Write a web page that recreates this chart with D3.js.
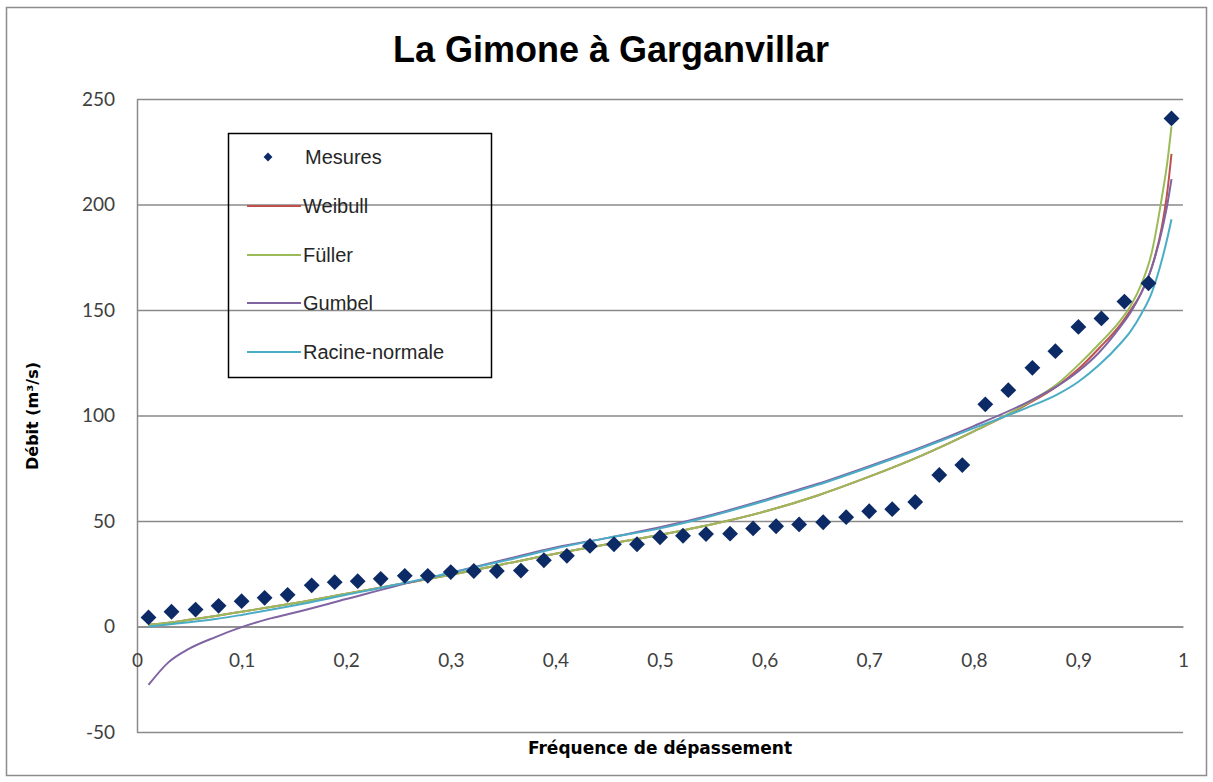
<html>
<head>
<meta http-equiv="Content-Type" content="text/html; charset=utf-8">
<title>La Gimone à Garganvillar</title>
<style>
body{ margin:0; background:#fff; }
.grid line{ stroke:#8a8a8a; stroke-width:1.5px; }
.grid path{ stroke:#8a8a8a; stroke-width:1.5px; }
.tick text{ font-family:Lato, "Liberation Sans", sans-serif; font-size:19px; fill:#404040; }
.curve{ fill:none; stroke-width:2px; }
.legend text{ font-family:"Liberation Sans", Arial, sans-serif; font-size:20px; fill:#262626; }
</style>
<script src="https://cdn.jsdelivr.net/npm/d3@7"></script>
</head>
<body>
<div id="chart"></div>
<script>
// mesures (fréquence de Hazen, 45 valeurs)
var freqMesures = [0.011,0.033,0.056,0.078,0.1,0.122,0.144,0.167,0.189,0.211,0.233,0.256,0.278,0.3,0.322,0.344,0.367,0.389,0.411,0.433,0.456,0.478,0.5,0.522,0.544,0.567,0.589,0.611,0.633,0.656,0.678,0.7,0.722,0.744,0.767,0.789,0.811,0.833,0.856,0.878,0.9,0.922,0.944,0.967,0.989];
var debitMesures = [4.3,7,8,9.8,12,13.6,15,19.5,21,21.5,22.6,24,24,25.8,26.3,26.3,26.5,31.4,33.5,38.2,39,39,42.3,43,43.8,44,46.5,47.5,48.4,49.4,51.8,54.6,55.6,59,71.8,76.5,105.3,112,122.6,130.5,142,146,154,162.7,240.8];

// lois ajustées
var freqLois = [0.011,0.03,0.05,0.075,0.1,0.125,0.15,0.2,0.25,0.3,0.35,0.4,0.45,0.5,0.55,0.6,0.65,0.7,0.75,0.8,0.85,0.88,0.9,0.92,0.94,0.95,0.96,0.97,0.98,0.985,0.989];
var weibull = [0.8,1.8,3.2,5,7,9,11,15.5,20,24.5,29.5,34.5,39,43.5,48.5,54.5,62,71,81,92.5,105,114,122,132,143,150,158,170,190,206,224];
var fuller  = [0.8,1.8,3.2,5,7,9,11,15.5,20,24.5,29.5,34.5,39,43.5,48.5,54.5,62,71,81,92.5,105.5,115,124,134,145,152,162,177,204,220,237];
var gumbel  = [-27.7,-17,-10.5,-5,-0.3,3.5,6.5,13,19.5,25.5,31.5,37.5,42,47,53,60,67.5,76,85,95,106,114,121,130,142,149,158,170,188,200,212];
var racine  = [0,1,2,3.5,5.5,7.7,10,15,20,25.5,31,37,42,46.5,52.5,59.5,67,75.5,84.5,94,103.5,110,116,124,134,140,148,158,174,184,193];

var nomsLois = ["Weibull","Füller","Gumbel","Racine-normale"];
var couleurs = ["#c0504d","#9bbb59","#8064a2","#4bacc6"];
var yTicks = [-50,0,50,100,150,200,250];
var xTicks = [0,0.1,0.2,0.3,0.4,0.5,0.6,0.7,0.8,0.9,1];

var W = 1213, H = 782;
var x = d3.scaleLinear().domain([0,1]).range([137,1183]);
var y = d3.scaleLinear().domain([-50,250]).range([732,99]);

var svg = d3.select('#chart').append('svg')
	.attr('width', W)
	.attr('height', H);

svg.append('rect')
	.attr('x', 6.5).attr('y', 7.5)
	.attr('width', 1200).attr('height', 768)
	.attr('fill', '#fff')
	.attr('stroke', '#8c8c8c')
	.attr('stroke-width', 1.5);

svg.append('text')
	.attr('x', 611).attr('y', 62)
	.attr('text-anchor', 'middle')
	.style('font-family', '"Liberation Sans", Arial, sans-serif')
	.style('font-weight', 'bold')
	.style('font-size', '36px')
	.style('fill', '#000')
	.text('La Gimone à Garganvillar');

// axe y + grille
svg.append('g')
	.attr('class', 'grid')
	.attr('transform', 'translate(137,0)')
	.call(d3.axisLeft(y).tickValues(yTicks).tickSizeInner(-(1183-137)).tickSizeOuter(0).tickPadding(22)
		.tickFormat(function(d){ return String(d); }));

// axe x à zéro
svg.append('g')
	.attr('class', 'grid')
	.attr('transform', 'translate(0,' + y(0) + ')')
	.call(d3.axisBottom(x).tickValues(xTicks).tickSize(0).tickPadding(27)
		.tickFormat(function(d){ return String(d).replace('.', ','); }));

// légende (sans fond, la grille passe dessous)
var leg = svg.append('g').attr('class', 'legend');
leg.append('rect')
	.attr('x', 228.5).attr('y', 133.5)
	.attr('width', 263).attr('height', 244)
	.attr('fill', 'none')
	.attr('stroke', '#000')
	.attr('stroke-width', 1.5);

// courbes
var line = d3.line()
	.curve(d3.curveMonotoneX)
	.x(function(d){ return x(d[0]); })
	.y(function(d){ return y(d[1]); });

[weibull, fuller, gumbel, racine].forEach(function(serie, i){
	svg.append('path')
		.datum(freqLois.map(function(f, j){ return [f, serie[j]]; }))
		.attr('class', 'curve')
		.attr('stroke', couleurs[i])
		.attr('d', line);
});

svg.selectAll('.point')
	.data(freqMesures.map(function(f, i){ return [f, debitMesures[i]]; }))
	.enter().append('path')
	.attr('class', 'point')
	.attr('transform', function(d){ return 'translate(' + x(d[0]) + ',' + y(d[1]) + ')'; })
	.attr('d', d3.symbol().type(d3.symbolDiamond2).size(160))
	.attr('fill', '#0b2a66');

var legY = [157, 206, 255, 303, 352];
leg.append('path')
	.attr('transform', 'translate(268,' + legY[0] + ')')
	.attr('d', d3.symbol().type(d3.symbolDiamond2).size(50))
	.attr('fill', '#0b2a66');
leg.append('text').attr('x', 305).attr('y', legY[0] + 7).text('Mesures');
nomsLois.forEach(function(n, i){
	leg.append('line')
		.attr('x1', 247).attr('x2', 301)
		.attr('y1', legY[i+1]).attr('y2', legY[i+1])
		.attr('stroke', couleurs[i]).attr('stroke-width', 2);
	leg.append('text').attr('x', 303).attr('y', legY[i+1] + 7).text(n);
});

// titres des axes
svg.append('text')
	.attr('transform', 'translate(38,416) rotate(-90)')
	.attr('text-anchor', 'middle')
	.style('font-family', '"DejaVu Sans", Verdana, sans-serif')
	.style('font-weight', 'bold')
	.style('font-size', '16px')
	.style('fill', '#000')
	.text('Débit (m³/s)');

svg.append('text')
	.attr('x', 660).attr('y', 754)
	.attr('text-anchor', 'middle')
	.style('font-family', '"DejaVu Sans", Verdana, sans-serif')
	.style('font-weight', 'bold')
	.style('font-size', '17px')
	.style('fill', '#000')
	.text('Fréquence de dépassement');
</script>
</body>
</html>
